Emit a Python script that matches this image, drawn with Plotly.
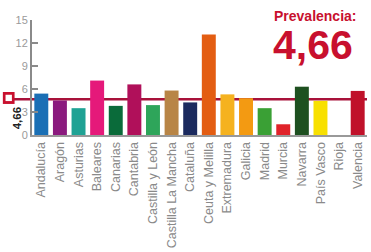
import plotly.graph_objects as go

regions = ["Andalucía", "Aragón", "Asturias", "Baleares", "Canarias", "Cantabria",
           "Castilla y León", "Castilla La Mancha", "Cataluña", "Ceuta y Melilla",
           "Extremadura", "Galicia", "Madrid", "Murcia", "Navarra", "País Vasco",
           "Rioja", "Valencia"]
values = [5.4, 4.5, 3.5, 7.1, 3.8, 6.6, 3.9, 5.8, 4.25, 13.1, 5.3, 4.8, 3.5, 1.4,
          6.3, 4.45, 0, 5.75]
colors = ["#1a6fb5", "#8b1a7e", "#1fa294", "#e5197a", "#0a6b3a", "#b0105a",
          "#2ea55a", "#b88546", "#1b2a5e", "#e35d12", "#f5b21f", "#f39a12",
          "#3aa035", "#e0232a", "#1e5020", "#f8e000", "#ffffff", "#c0112a"]
prevalence = 4.66
prev_label = "4,66"
y_ticks = [0, 3, 6, 9, 12, 15]

FONT = "Liberation Sans, Arial, sans-serif"
RED = "#c8102e"

fig = go.Figure()
fig.add_trace(go.Bar(x=regions, y=values, marker=dict(color=colors, line=dict(width=0)),
                     hoverinfo="x+y"))

fig.add_shape(type="line", xref="paper", yref="y", x0=-0.054, x1=1, y0=prevalence,
              y1=prevalence, line=dict(color="#a8123a", width=2.5), layer="below")
# small badge at the left of the reference line
fig.add_shape(type="rect", xref="paper", yref="paper", x0=-0.087, x1=-0.052,
              y0=0.27, y1=0.374, fillcolor=RED, line=dict(width=0))
fig.add_shape(type="rect", xref="paper", yref="paper", x0=-0.079, x1=-0.060,
              y0=0.295, y1=0.35, fillcolor="white", line=dict(width=0))

fig.add_annotation(text="<b>" + prev_label + "</b>", xref="paper", yref="paper",
                   x=-0.068, y=0.26, yanchor="top", textangle=-90, showarrow=False,
                   font=dict(family=FONT, size=11.5, color="#222222"))
fig.add_annotation(text="<b>Prevalencia:</b>", xref="paper", yref="paper",
                   x=0.845, y=1.035, xanchor="center", yanchor="middle", showarrow=False,
                   font=dict(family=FONT, size=14, color=RED))
fig.add_annotation(text="<b>" + prev_label + "</b>", xref="paper", yref="paper",
                   x=0.84, y=0.78, xanchor="center", yanchor="middle", showarrow=False,
                   font=dict(family=FONT, size=41, color=RED))

fig.update_layout(
    width=371, height=252,
    margin=dict(l=32, r=4, t=20, b=117),
    paper_bgcolor="white", plot_bgcolor="white",
    bargap=0.25, showlegend=False,
    font=dict(family=FONT),
)
fig.update_xaxes(tickangle=-90, showline=True, linecolor="#999999", linewidth=2,
                 ticks="", tickfont=dict(family=FONT, size=12.5, color="#8a8a8a"),
                 showgrid=False, fixedrange=True, automargin=False)
fig.update_yaxes(range=[0, 15], tickvals=y_ticks, showline=True, linecolor="#8a8a8a",
                 linewidth=2, ticks="inside", ticklen=6, tickwidth=2, tickcolor="#8a8a8a",
                 tickfont=dict(family=FONT, size=11, color="#9a9a9a"),
                 showgrid=False, zeroline=False, fixedrange=True, automargin=False)

fig.write_html("out.html", config={"displayModeBar": False},
               post_script="document.body.style.margin='0';document.body.style.overflow='hidden';")
